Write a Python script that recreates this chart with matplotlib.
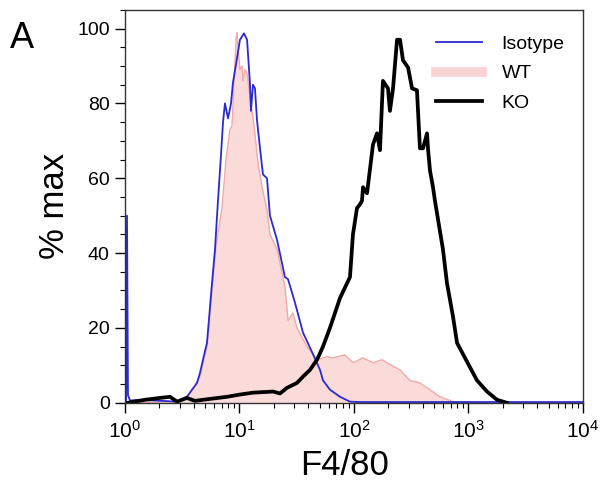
import numpy as np
import matplotlib
matplotlib.use("Agg")
import matplotlib.pyplot as plt
from matplotlib.ticker import LogLocator, MultipleLocator
from matplotlib.lines import Line2D

plt.rcParams['font.family'] = ['Liberation Sans', 'DejaVu Sans']
plt.rcParams['mathtext.fontset'] = 'custom'
plt.rcParams['mathtext.rm'] = 'Liberation Sans'

# positions are read as decades (log10 of F4/80 intensity), values in % max
iso_logx = [0.009, 0.0175, 0.026, 0.044, 0.131, 0.262, 0.393, 0.454, 0.541, 0.585,
            0.629, 0.655, 0.681, 0.716, 0.760, 0.786, 0.812, 0.838, 0.856, 0.873,
            0.900, 0.926, 0.943, 0.978, 1.004, 1.039, 1.066, 1.092, 1.100, 1.118,
            1.135, 1.153, 1.179, 1.205, 1.240, 1.266, 1.328, 1.397, 1.424, 1.485,
            1.555, 1.642, 1.703, 1.729, 1.790, 1.878, 1.965, 2.052, 4.0]
iso_pct = [0, 50, 2, 0.6, 0.8, 0.6, 0.4, 0.3, 1.6, 3.5,
           5.3, 8, 11.5, 16, 32, 41, 54, 66, 75, 80,
           76, 80, 85.6, 92, 97, 98.7, 97, 85, 78, 85,
           84, 75.5, 68, 61, 60, 50, 43.5, 33.6, 33, 26.7,
           18.7, 13, 8.8, 6, 3.5, 1.6, 0.3, 0.2, 0.2]

wt_logx = [0.044, 0.437, 0.541, 0.594, 0.655, 0.716, 0.760, 0.795, 0.847, 0.882,
           0.917, 0.934, 0.952, 0.969, 0.978, 0.987, 1.004, 1.022, 1.031, 1.048,
           1.066, 1.092, 1.127, 1.162, 1.197, 1.240, 1.266, 1.328, 1.397, 1.424,
           1.467, 1.502, 1.590, 1.677, 1.764, 1.817, 1.921, 1.991, 2.079, 2.166,
           2.245, 2.288, 2.402, 2.489, 2.576, 2.664, 2.751, 2.865, 2.969]
wt_pct = [0, 0.3, 1.6, 3.5, 7, 15, 30, 42, 52, 65,
          73, 74, 85, 97, 99, 95, 89, 90, 86, 89,
          88, 81.6, 74, 64, 57.6, 51.5, 45, 41, 31, 22,
          24, 20, 15, 11.5, 12.3, 12, 12.8, 10.7, 12, 10.7,
          11.5, 10.7, 8.8, 6, 5.3, 3.5, 1.6, 0.3, 0]

ko_logx = [0.026, 0.175, 0.306, 0.393, 0.454, 0.541, 0.611, 0.681, 0.786, 0.891,
           1.004, 1.118, 1.293, 1.354, 1.415, 1.502, 1.555, 1.616, 1.677, 1.729,
           1.790, 1.878, 1.965, 1.991, 2.026, 2.052, 2.070, 2.079, 2.114, 2.166,
           2.201, 2.227, 2.253, 2.297, 2.314, 2.341, 2.376, 2.402, 2.428, 2.472,
           2.507, 2.550, 2.576, 2.603, 2.638, 2.646, 2.664, 2.690, 2.707, 2.777,
           2.812, 2.865, 2.900, 2.952, 3.074, 3.162, 3.249, 3.336]
ko_pct = [0, 0.8, 1.3, 1.6, 0.3, 1.3, 0.5, 0.8, 1.2, 1.6,
          2.2, 2.7, 3.0, 2.5, 4, 5.3, 7, 8.8, 11.5, 15,
          20, 28, 33.6, 45, 52, 53, 54, 57.6, 56, 69,
          72, 67.5, 86, 84, 78, 84, 97, 97, 91.5, 89.6,
          84, 83.5, 68, 68, 72, 68, 62, 57.6, 54, 41,
          32, 23, 16, 13, 6, 3, 0.8, 0]

iso_x = 10 ** np.array(iso_logx)
wt_x = 10 ** np.array(wt_logx)
ko_x = 10 ** np.array(ko_logx)

fig = plt.figure(figsize=(6.01, 4.90), dpi=100)
ax = fig.add_axes([0.208, 0.178, 0.762, 0.802])

ax.fill_between(wt_x, wt_pct, color='#fbdada', lw=0)
ax.plot(wt_x, wt_pct, color='#f0aaaa', lw=1.0)
ax.plot(iso_x, iso_pct, color='#2a2ad0', lw=1.3)
ax.plot(ko_x, ko_pct, color='black', lw=2.7)

ax.set_xscale('log')
ax.set_xlim(1, 1e4)
ax.set_ylim(0, 105)
ax.xaxis.set_major_locator(LogLocator(base=10, numticks=10))
ax.xaxis.set_minor_locator(LogLocator(base=10, subs=np.arange(2, 10), numticks=20))
ax.yaxis.set_major_locator(MultipleLocator(20))
ax.yaxis.set_minor_locator(MultipleLocator(5))
ax.tick_params(axis='both', which='major', length=7, width=1, direction='out')
ax.tick_params(axis='both', which='minor', length=3.5, width=0.8, direction='out')
ax.tick_params(axis='y', labelsize=14, pad=4)
ax.tick_params(axis='x', labelsize=15, pad=5)
for s in ax.spines.values():
    s.set_linewidth(1)
    s.set_color('#333333')

ax.set_xlabel('F4/80', fontsize=25)
ax.set_ylabel('% max', fontsize=25)
ax.xaxis.set_label_coords(0.48, -0.118)
ax.yaxis.set_label_coords(-0.118, 0.5)

handles = [Line2D([], [], color='#2a2ad0', lw=1.3),
           Line2D([], [], color='#f9d2d6', lw=7),
           Line2D([], [], color='black', lw=2.7)]
ax.legend(handles, ['Isotype', 'WT', 'KO'], loc='upper left',
          bbox_to_anchor=(0.64, 0.98), frameon=False, fontsize=14,
          handlelength=2.4, handletextpad=1.0, labelspacing=0.62)

fig.text(0.017, 0.902, 'A', fontsize=26)

fig.savefig('out.png', dpi=100)
